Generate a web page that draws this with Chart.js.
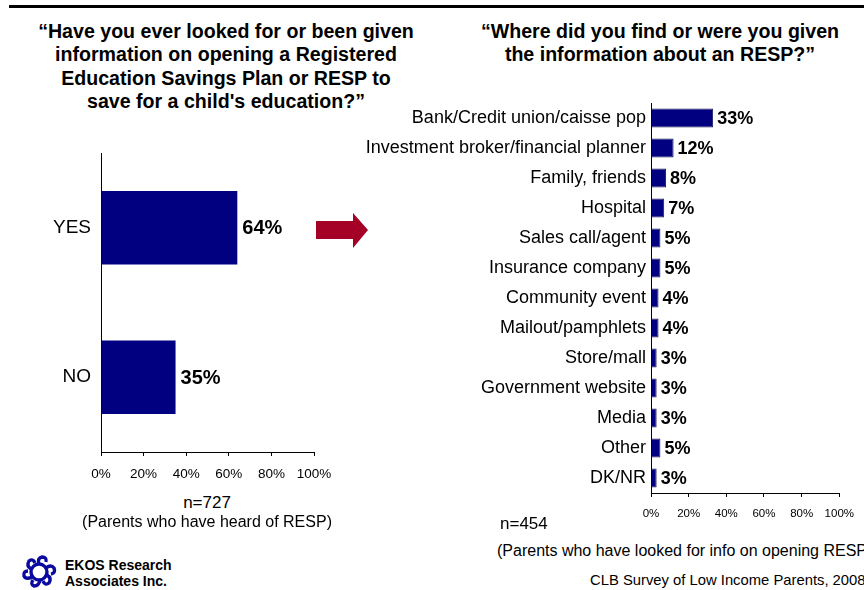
<!DOCTYPE html>
<html>
<head>
<meta charset="utf-8">
<script src="https://cdn.jsdelivr.net/npm/chart.js@4.4.1/dist/chart.umd.min.js"></script>
<style>
  html, body { margin: 0; padding: 0; background: #fff; }
  body { width: 864px; height: 590px; position: relative; overflow: hidden; font-family: "Liberation Sans", Arial, sans-serif; color: #000; }
  .abs { position: absolute; }
  .rule { left: 9px; right: 0; top: 5px; height: 3px; background: #000; }
  .title { font-weight: bold; font-size: 19.6px; line-height: 23.3px; text-align: center; white-space: nowrap; }
  .note { font-size: 16px; white-space: nowrap; }
  #leftBox { left: 0; top: 0; width: 350px; height: 490px; }
  #rightBox { left: 360px; top: 0; width: 504px; height: 530px; }
</style>
</head>
<body>
<div class="abs rule"></div>

<div class="abs title" style="left:26px; top:20px; width:400px;">“Have you ever looked for or been given<br>information on opening a Registered<br>Education Savings Plan or RESP to<br>save for a child's education?”</div>
<div class="abs title" style="left:460px; top:20px; width:400px;">“Where did you find or were you given<br>the information about an RESP?”</div>

<div class="abs" id="leftBox"><canvas id="leftChart"></canvas></div>
<div class="abs" id="rightBox"><canvas id="rightChart"></canvas></div>

<svg class="abs" style="left:314px; top:211px;" width="56" height="40">
  <polygon points="2,10 39,10 39,2 54,19 39,37 39,28 2,28" fill="#A50026"/>
</svg>

<div class="abs note" style="left:57px; top:493px; width:300px; text-align:center; font-size:17px;">n=727</div>
<div class="abs note" style="left:57px; top:513px; width:300px; text-align:center;">(Parents who have heard of RESP)</div>

<div class="abs note" style="left:500px; top:514px; font-size:17px;">n=454</div>
<div class="abs note" style="left:497px; top:542px;">(Parents who have looked for info on opening RESP)</div>
<div class="abs note" style="left:590px; top:572px; font-size:14.8px;">CLB Survey of Low Income Parents, 2008</div>

<svg class="abs" style="left:21px; top:555px;" width="36" height="34">
  <g fill="none" stroke="#0A0AA0" stroke-width="3.4">
    <circle cx="18" cy="17" r="8"/>
    <path d="M18 9 q-2 -6 3 -7 q5 0 4 5"/>
    <path d="M25 13 q5 -4 8 0 q2 5 -3 6"/>
    <path d="M26 20 q5 3 2 8 q-4 3 -6 -2"/>
    <path d="M19 25 q-1 6 -6 6 q-4 -2 -1 -6"/>
    <path d="M11 22 q-6 3 -8 -1 q-1 -5 4 -5"/>
    <path d="M10 14 q-5 -3 -2 -8 q4 -3 6 2"/>
  </g>
</svg>
<div class="abs" style="left:65px; top:557px; font-weight:bold; font-size:14px; line-height:16px;">EKOS Research<br>Associates Inc.</div>

<script>
// left panel: yes / no
var awareLabels = ['YES', 'NO'];
var awareValues = [64, 35];

// right panel: where the info came from
var sourceLabels = ['Bank/Credit union/caisse pop', 'Investment broker/financial planner', 'Family, friends',
  'Hospital', 'Sales call/agent', 'Insurance company', 'Community event', 'Mailout/pamphlets',
  'Store/mall', 'Government website', 'Media', 'Other', 'DK/NR'];
var sourceValues = [33, 12, 8, 7, 5, 5, 4, 4, 3, 3, 3, 5, 3];

var tickValues = [0, 20, 40, 60, 80, 100];

var FONT = '"Liberation Sans", Arial, sans-serif';

// writes "NN%" just past the end of every bar
function valueLabels(size, gap) {
    return {
        id: 'valueLabels',
        afterDatasetsDraw: function(chart) {
            var ctx = chart.ctx;
            var ds = chart.data.datasets[0];
            ctx.save();
            ctx.font = 'bold ' + size + 'px ' + FONT;
            ctx.fillStyle = '#000';
            ctx.textBaseline = 'middle';
            chart.getDatasetMeta(0).data.forEach(function(bar, i) {
                ctx.fillText(ds.data[i] + '%', bar.x + gap, bar.y + 1);
            });
            ctx.restore();
        }
    };
}

function makeChart(id, labels, values, opts) {
    return new Chart(document.getElementById(id).getContext('2d'), {
        type: 'bar',
        data: {
            labels: labels,
            datasets: [{
                data: values,
                backgroundColor: '#000080',
                borderColor: opts.border,
                borderWidth: opts.borderWidth,
                categoryPercentage: opts.catPct,
                barPercentage: 1
            }]
        },
        options: {
            indexAxis: 'y',
            responsive: true,
            maintainAspectRatio: false,
            animation: false,
            layout: { padding: opts.padding },
            plugins: { legend: { display: false }, tooltip: { enabled: false } },
            scales: {
                x: {
                    min: 0,
                    max: 100,
                    afterBuildTicks: function(axis) {
                        axis.ticks = tickValues.map(function(v) { return { value: v }; });
                    },
                    afterFit: function(axis) { axis.height = opts.xHeight; },
                    grid: { drawOnChartArea: false, drawTicks: true, tickLength: 4, color: '#000' },
                    border: { color: '#000', width: 1 },
                    ticks: {
                        color: '#000',
                        padding: opts.tickPad,
                        maxRotation: 0,
                        font: { family: FONT, size: opts.tickSize },
                        callback: function(v) { return v + '%'; }
                    }
                },
                y: {
                    afterFit: function(axis) { axis.width = opts.yWidth; },
                    grid: { display: false, drawTicks: false, tickLength: 0 },
                    border: { color: '#000', width: 1 },
                    ticks: {
                        color: '#000',
                        padding: opts.labelPad,
                        autoSkip: false,
                        font: { family: FONT, size: opts.labelSize }
                    }
                }
            }
        },
        plugins: [valueLabels(opts.valueSize, opts.valueGap)]
    });
}

makeChart('leftChart', awareLabels, awareValues, {
    padding: { top: 153, right: 36, left: 0, bottom: 0 },
    xHeight: 38, yWidth: 101, tickPad: 10, tickSize: 13.5,
    labelPad: 10, labelSize: 19, valueSize: 20, valueGap: 5,
    catPct: 0.49, border: '#000080', borderWidth: 0
});

makeChart('rightChart', sourceLabels, sourceValues, {
    padding: { top: 103, right: 11, left: 0, bottom: 0 },
    xHeight: 37, yWidth: 291, tickPad: 10, tickSize: 11.5,
    labelPad: 5, labelSize: 18, valueSize: 18, valueGap: 4,
    catPct: 0.64, border: '#1b1b55', borderWidth: 1
});
</script>
</body>
</html>
